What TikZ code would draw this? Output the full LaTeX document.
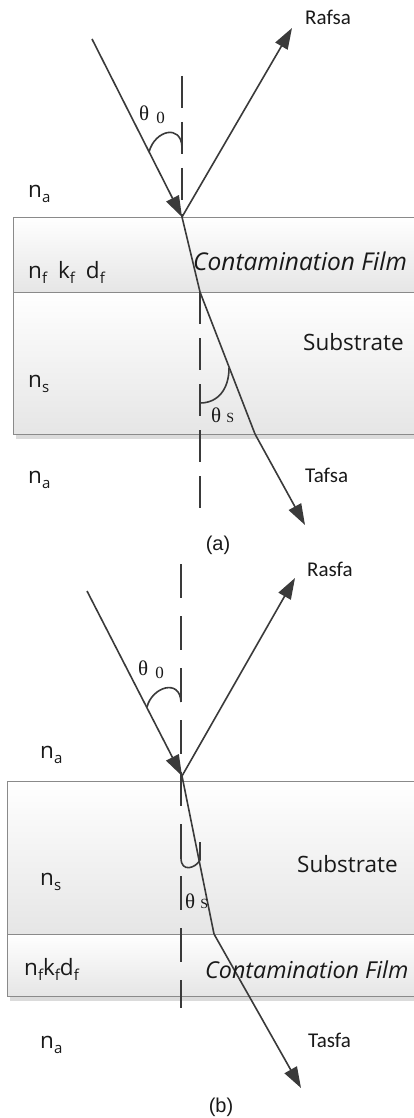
\documentclass[tikz,border=0pt]{standalone}
\usepackage{fontspec}
\setmainfont{Open Sans}
\newfontfamily\calfont{Carlito}
\newfontfamily\serfont{Liberation Serif}
\newfontfamily\arfont{Liberation Sans}
\usetikzlibrary{arrows.meta}
\definecolor{raycol}{HTML}{3A3A3A}
\definecolor{edgecol}{HTML}{8A8A8A}
\newcommand\sbs[1]{\raisebox{-0.25em}{\fontsize{15}{15}\selectfont #1}}
\begin{document}
\begin{tikzpicture}[x=1pt,y=-1pt,
  rayline/.style={draw=raycol, line width=1.6pt},
  arr/.style={-{Triangle[length=21pt,width=14pt]}},
  normala/.style={draw=raycol, line width=1.6pt, dash pattern=on 32pt off 14pt},
  normalb/.style={draw=raycol, line width=1.6pt, dash pattern=on 34pt off 18pt},
  layer/.style={top color=white, bottom color=black!10, draw=edgecol, line width=1pt},
  shadowstrip/.style={fill=black!14, draw=none},
  lbl/.style={anchor=base west, inner sep=0pt, text=black!90},
  big/.style={font=\fontsize{22.5}{26}\selectfont},
  itl/.style={font=\fontsize{24.5}{28}\selectfont\itshape},
  itlb/.style={font=\fontsize{23.3}{27}\selectfont\itshape},
  rlbl/.style={font=\calfont\fontsize{21}{24}\selectfont},
  thlbl/.style={font=\serfont\fontsize{21}{24}\selectfont},
  caplbl/.style={anchor=center, inner sep=0pt, text=black!90, font=\arfont\fontsize{20}{23}\selectfont}
]
\clip (0,0) rectangle (414,1118);
\fill[white] (0,0) rectangle (414,1118);

% ---------------- panel (a) ----------------
\fill[shadowstrip] (16,434) rectangle (430,439);
\shade[layer] (13,217) rectangle (430,292);
\shade[layer] (13,292) rectangle (430,434);

\coordinate (a-n1) at (182,76);
\coordinate (a-hit) at (182,217);
\coordinate (a-n2) at (200,292);
\coordinate (a-n3) at (200,508);
\coordinate (a-in) at (92,39);
\coordinate (a-refl) at (292,28);
\coordinate (a-k1) at (200,292);
\coordinate (a-k2) at (255,434);
\coordinate (a-out) at (305,525);
\coordinate (a-t0s) at (149,152);
\coordinate (a-t0e) at (182,147);
\coordinate (a-tss) at (200,403);
\coordinate (a-tse) at (229,368);

\draw[normala] (a-n1) -- (a-hit);
\draw[normala] (a-n2) -- (a-n3);
\draw[rayline,arr] (a-in) -- (a-hit);
\draw[rayline,arr] (a-hit) -- (a-refl);
\draw[rayline] (a-hit) -- (a-k1) -- (a-k2);
\draw[rayline,arr] (a-k2) -- (a-out);
\draw[rayline] (a-t0s) .. controls (155,130) and (181,124) .. (a-t0e);
\draw[rayline] (a-tss) .. controls (218,403) and (229,389) .. (a-tse);

\node[lbl,rlbl] (a-R) at (305,25) {Rafsa};
\node[lbl,thlbl] (a-th0) at (139,121) {θ\hspace{7pt}\raisebox{-3pt}{\fontsize{17}{20}\selectfont 0}};
\node[lbl,thlbl] (a-ths) at (211,422) {θ\hspace{5pt}{\fontsize{14}{16}\selectfont S}};
\node[lbl,big] (a-na1) at (28,197) {n\sbs{a}};
\node[lbl,big] (a-nf) at (28,278) {n\sbs{f}\hspace{11pt}k\sbs{f}\hspace{11pt}d\sbs{f}};
\node[lbl,itl] (a-cf) at (193,270) {Contamination Film};
\node[lbl,big] (a-sub) at (303,350) {Substrate};
\node[lbl,big] (a-ns) at (28,387) {n\sbs{s}};
\node[lbl,big] (a-na2) at (28,483) {n\sbs{a}};
\node[lbl,rlbl] (a-T) at (305,482) {Tafsa};
\node[caplbl] (a-cap) at (218,545) {(a)};

% ---------------- panel (b) ----------------
\fill[shadowstrip] (10,996) rectangle (430,1001);
\shade[layer] (7,781) rectangle (430,934);
\shade[layer] (7,934) rectangle (430,996);

\coordinate (b-n1) at (181,564);
\coordinate (b-n2) at (181,1008);
\coordinate (b-hit) at (182,776);
\coordinate (b-in) at (87,591);
\coordinate (b-refl) at (295,578);
\coordinate (b-k1) at (214,934);
\coordinate (b-out) at (301,1088);
\coordinate (b-t0s) at (147,707);
\coordinate (b-t0e) at (181,702);
\coordinate (b-hs) at (181,827);
\coordinate (b-hm) at (181,858);
\coordinate (b-hr) at (200,860);
\coordinate (b-he) at (200,842);

\draw[normalb] (b-n1) -- (b-n2);
\draw[rayline,arr] (b-in) -- (b-hit);
\draw[rayline,arr] (b-hit) -- (b-refl);
\draw[rayline] (b-hit) -- (b-k1);
\draw[rayline,arr] (b-k1) -- (b-out);
\draw[rayline] (b-t0s) .. controls (152,687) and (180,678) .. (b-t0e);
\draw[rayline] (b-hs) -- (b-hm) .. controls (181,873) and (196,868) .. (b-hr) -- (b-he);

\node[lbl,rlbl] (b-R) at (307,576) {Rasfa};
\node[lbl,thlbl] (b-th0) at (138,675) {θ\hspace{7pt}\raisebox{-3pt}{\fontsize{17}{20}\selectfont 0}};
\node[lbl,thlbl] (b-ths) at (185,908) {θ\hspace{5pt}{\fontsize{14}{16}\selectfont S}};
\node[lbl,big] (b-na1) at (40,758) {n\sbs{a}};
\node[lbl,big] (b-sub) at (297,872) {Substrate};
\node[lbl,big] (b-ns) at (40,885) {n\sbs{s}};
\node[lbl,big] (b-nf) at (24,975) {n\sbs{f}k\sbs{f}d\sbs{f}};
\node[lbl,itlb] (b-cf) at (205,978) {Contamination Film};
\node[lbl,big] (b-na2) at (40,1048) {n\sbs{a}};
\node[lbl,rlbl] (b-T) at (308,1047) {Tasfa};
\node[caplbl] (b-cap) at (221,1107) {(b)};
\end{tikzpicture}
\end{document}
